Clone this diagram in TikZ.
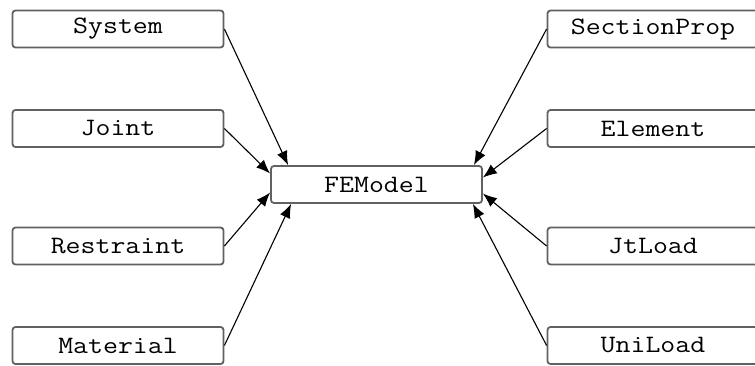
\documentclass[tikz,border=0pt]{standalone}
\usepackage{fontspec}
\usetikzlibrary{arrows.meta}
% class names are set wide, in a typewriter face
\newcommand{\clsname}[1]{\scalebox{1.16}[1]{#1}}
\tikzset{
  classbox/.style={draw=black!62, line width=1.8pt, rounded corners=3pt, fill=white,
    minimum width=211pt, minimum height=37pt, inner sep=0pt,
    font=\ttfamily\fontsize{25}{25}\selectfont},
  link/.style={draw=black, line width=1.1pt, -{Latex[length=14pt,width=11pt]}}
}
\begin{document}
\begin{tikzpicture}[x=1pt,y=-1pt]
  \useasboundingbox (0,0) rectangle (755,366);
  \clip (0,0) rectangle (755,366);
  % central model
  \node[classbox] (fe) at (376.5,184.5) {\clsname{FEModel}};
  % left column
  \node[classbox] (sys) at (118,29) {\clsname{System}};
  \node[classbox] (jnt) at (118,128.5) {\clsname{Joint}};
  \node[classbox] (res) at (118,246) {\clsname{Restraint}};
  \node[classbox] (mat) at (118,345.5) {\clsname{Material}};
  % right column
  \node[classbox] (sec) at (653,29) {\clsname{SectionProp}};
  \node[classbox] (ele) at (653,128.5) {\clsname{Element}};
  \node[classbox] (jtl) at (653,246) {\clsname{JtLoad}};
  \node[classbox] (uni) at (653,345.5) {\clsname{UniLoad}};
  % connectors into the model
  \draw[link] (sys.east) -- ([xshift=18pt]fe.north west);
  \draw[link] (jnt.east) -- ([yshift=11pt]fe.west);
  \draw[link] (res.east) -- ([yshift=-8pt]fe.west);
  \draw[link] (mat.east) -- ([xshift=21pt]fe.south west);
  \draw[link] (sec.west) -- ([xshift=-9pt]fe.north east);
  \draw[link] (ele.west) -- ([yshift=7pt]fe.east);
  \draw[link] (jtl.west) -- ([yshift=-9pt]fe.east);
  \draw[link] (uni.west) -- ([xshift=-10pt]fe.south east);
\end{tikzpicture}
\end{document}
